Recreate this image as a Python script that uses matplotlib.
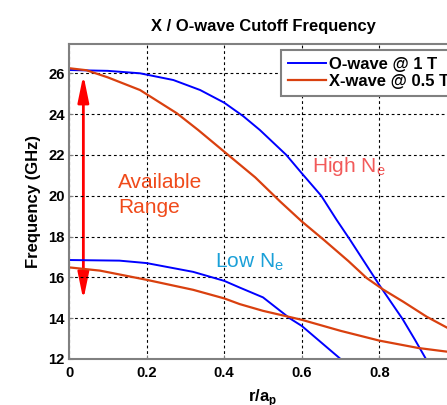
import numpy as np
import matplotlib
matplotlib.use("Agg")
import matplotlib.pyplot as plt
from matplotlib.patches import FancyArrowPatch

plt.rcParams['font.family'] = ['Liberation Sans', 'DejaVu Sans']
plt.rcParams['mathtext.fontset'] = 'custom'
plt.rcParams['mathtext.rm'] = 'Liberation Sans'
plt.rcParams['mathtext.bf'] = 'Liberation Sans:bold'

# O-wave @ 1 T, high density
r_o_hi = [0, 0.1, 0.183, 0.269, 0.338, 0.4, 0.449, 0.492, 0.56, 0.6, 0.65, 0.69, 0.724, 0.8, 0.86, 0.892, 0.92]
f_o_hi = [26.16, 26.12, 26.0, 25.67, 25.18, 24.56, 23.9, 23.22, 22.0, 21.1, 20.0, 18.81, 17.85, 15.62, 13.95, 12.93, 12.0]
# X-wave @ 0.5 T, high density
r_x_hi = [0, 0.045, 0.1, 0.183, 0.278, 0.333, 0.4, 0.48, 0.544, 0.6, 0.656, 0.72, 0.767, 0.81, 0.862, 0.922, 0.973, 1.0]
f_x_hi = [26.25, 26.15, 25.8, 25.18, 24.04, 23.22, 22.16, 20.9, 19.72, 18.74, 17.85, 16.8, 15.97, 15.4, 14.8, 14.07, 13.55, 13.28]
# O-wave @ 1 T, low density
r_o_lo = [0, 0.13, 0.2, 0.32, 0.4, 0.44, 0.5, 0.57, 0.6, 0.7]
f_o_lo = [16.85, 16.82, 16.7, 16.27, 15.83, 15.5, 15.02, 13.98, 13.62, 12.0]
# X-wave @ 0.5 T, low density
r_x_lo = [0, 0.08, 0.2, 0.32, 0.4, 0.44, 0.5, 0.6, 0.7, 0.8, 0.9, 0.97, 1.0]
f_x_lo = [16.49, 16.33, 15.88, 15.39, 14.97, 14.69, 14.36, 13.92, 13.38, 12.9, 12.54, 12.37, 12.3]

xticks = [0, 0.2, 0.4, 0.6, 0.8, 1.0]
xticklabels = ['0', '0.2', '0.4', '0.6', '0.8', '1']
yticks = [12, 14, 16, 18, 20, 22, 24, 26]

blue = '#0000ff'
red = '#d9400f'

fig = plt.figure(figsize=(4.47, 4.05), dpi=100)
ax = fig.add_axes([69/447, 46/405, 388/447, 315.5/405])

ax.plot(r_o_hi, f_o_hi, color=blue, lw=1.4, label='O-wave @ 1 T')
ax.plot(r_x_hi, f_x_hi, color=red, lw=1.6, label='X-wave @ 0.5 T')
ax.plot(r_o_lo, f_o_lo, color=blue, lw=1.4)
ax.plot(r_x_lo, f_x_lo, color=red, lw=1.6)

ax.set_xlim(0, 1)
ax.set_ylim(12, 27.46)
ax.set_xticks(xticks)
ax.set_xticklabels(xticklabels)
ax.set_yticks(yticks)
ax.grid(True, color='black', linestyle=(0, (2.5, 2.5)), linewidth=0.8)
for s in ax.spines.values():
    s.set_color('#808080')
    s.set_linewidth(1.5)
ax.tick_params(direction='in', length=3, color='#808080', labelsize=10.7, pad=5)
ax.tick_params(axis='y', pad=3)
for lab in ax.get_xticklabels() + ax.get_yticklabels():
    lab.set_fontweight('bold')

ax.set_title('X / O-wave Cutoff Frequency', fontsize=11.9, fontweight='bold', pad=9)
ax.set_xlabel(r'r/a$_\mathregular{p}$', fontsize=12, fontweight='bold', labelpad=5)
ax.set_ylabel('Frequency (GHz)', fontsize=12, fontweight='bold', labelpad=5)

arrow = FancyArrowPatch((0.037, 14.9), (0.037, 25.92), arrowstyle='<|-|>,head_length=16,head_width=3.3',
                        mutation_scale=1, color='#ff0000', lw=2, shrinkA=0, shrinkB=0)
ax.add_patch(arrow)

ax.text(0.126, 20.36, 'Available', color='#f04a1a', fontsize=15, va='baseline')
ax.text(0.126, 19.17, 'Range', color='#f04a1a', fontsize=15, va='baseline')
ax.text(0.626, 21.18, r'High N$_\mathregular{e}$', color='#f25a5a', fontsize=15, va='baseline')
ax.text(0.376, 16.49, r'Low N$_\mathregular{e}$', color='#1aa0d8', fontsize=15, va='baseline')

leg = ax.legend(loc='upper left', bbox_to_anchor=(281/447, 1 - 50/405), bbox_transform=fig.transFigure,
                borderaxespad=0, fancybox=False, framealpha=1, edgecolor='#808080',
                prop={'weight': 'bold', 'size': 11.9}, handlelength=2.3, handletextpad=0.2,
                borderpad=0.4, labelspacing=0.15)
leg.get_frame().set_linewidth(1.5)

fig.savefig('out.png', dpi=100)
